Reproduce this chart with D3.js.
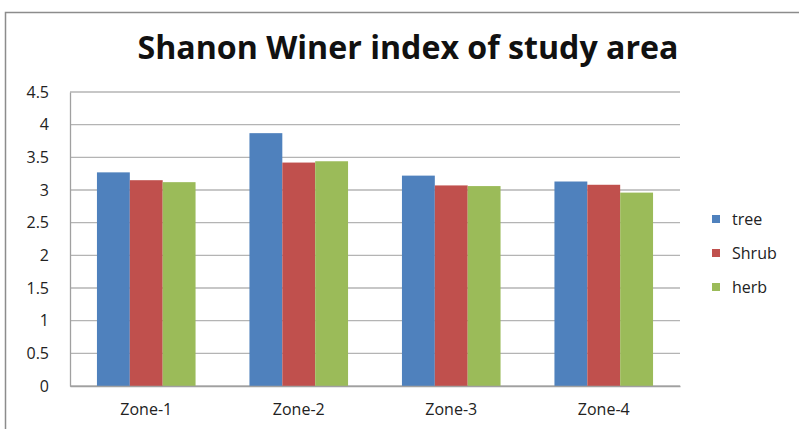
<!DOCTYPE html>
<html>
<head>
<meta charset="utf-8">
<script src="https://cdn.jsdelivr.net/npm/d3@7"></script>
<style>
  body { margin: 0; background: #fff; }
  text { font-family: "Open Sans", sans-serif; }
</style>
</head>
<body>
<div id="viz"></div>
<script>
const w = 799;
const h = 429;

// data
const zones = ['Zone-1', 'Zone-2', 'Zone-3', 'Zone-4'];
const seriesNames = ['tree', 'Shrub', 'herb'];
const tree = [3.27, 3.87, 3.22, 3.13];
const shrub = [3.15, 3.42, 3.07, 3.08];
const herb = [3.12, 3.44, 3.06, 2.96];
const yTicks = [0, 0.5, 1, 1.5, 2, 2.5, 3, 3.5, 4, 4.5];
const colors = ['#4F81BD', '#C0504D', '#9BBB59'];

const series = [tree, shrub, herb];

const svg = d3.select('#viz').append('svg')
    .attr('width', w)
    .attr('height', h)

// chart frame
svg.append('rect')
    .attr('x', 5.5)
    .attr('y', 12.5)
    .attr('width', 820)
    .attr('height', 440)
    .attr('fill', 'white')
    .attr('stroke', '#8c8c8c')
    .attr('stroke-width', 1.5)

svg.append('text')
    .attr('x', 408)
    .attr('y', 59)
    .attr('text-anchor', 'middle')
    .attr('font-size', 32)
    .attr('font-weight', 'bold')
    .attr('fill', '#111')
    .attr('textLength', 541)
    .attr('lengthAdjust', 'spacingAndGlyphs')
    .text('Shanon Winer index of study area')

const plotLeft = 70, plotRight = 680, plotTop = 92, plotBottom = 386;

const x = d3.scaleBand()
    .domain(zones)
    .range([plotLeft, plotRight])
    .paddingInner(0)
    .paddingOuter(0)

const inner = d3.scaleBand()
    .domain(d3.range(series.length))
    .range([0, x.bandwidth()])
    .paddingInner(0)
    .paddingOuter(0.82)

const y = d3.scaleLinear()
    .domain([0, 4.5])
    .range([plotBottom, plotTop])

// gridlines
svg.append('g')
    .selectAll('line')
    .data(yTicks)
    .join('line')
    .attr('x1', plotLeft)
    .attr('x2', plotRight)
    .attr('y1', d => y(d))
    .attr('y2', d => y(d))
    .attr('stroke', '#b4b4b4')
    .attr('stroke-width', 1.3)

// y axis
const yAxis = svg.append('g')
    .attr('transform', `translate(${plotLeft},0)`)
    .call(d3.axisLeft(y).tickValues(yTicks).tickSize(0).tickPadding(21).tickFormat(d3.format('')))
yAxis.select('.domain').attr('stroke', '#a0a0a0').attr('stroke-width', 1.3)
yAxis.selectAll('text').attr('font-size', 16).attr('fill', '#222')
    .style('font-family', '"Open Sans", sans-serif')

// bars
const groups = svg.append('g')
    .selectAll('g')
    .data(zones)
    .join('g')
    .attr('transform', d => `translate(${x(d)},0)`)

groups.selectAll('rect')
    .data((z, i) => series.map((s, k) => ({ k: k, v: s[i] })))
    .join('rect')
    .attr('x', d => inner(d.k))
    .attr('width', inner.bandwidth())
    .attr('y', d => y(d.v))
    .attr('height', d => y(0) - y(d.v))
    .attr('fill', d => colors[d.k])

// x axis
const xAxis = svg.append('g')
    .attr('transform', `translate(0,${plotBottom})`)
    .call(d3.axisBottom(x).tickSize(0).tickPadding(18))
xAxis.select('.domain').attr('stroke', '#a0a0a0').attr('stroke-width', 1.3)
xAxis.selectAll('text').attr('font-size', 16).attr('fill', '#222')
    .style('font-family', '"Open Sans", sans-serif')

// legend
const legend = svg.append('g')
    .selectAll('g')
    .data(seriesNames)
    .join('g')
    .attr('transform', (d, i) => `translate(712,${219 + i * 34})`)

legend.append('rect')
    .attr('x', 0)
    .attr('y', -4)
    .attr('width', 8)
    .attr('height', 8)
    .attr('fill', (d, i) => colors[i])

legend.append('text')
    .attr('x', 20)
    .attr('y', 5.5)
    .attr('font-size', 16)
    .attr('fill', '#222')
    .text(d => d)
</script>
</body>
</html>
